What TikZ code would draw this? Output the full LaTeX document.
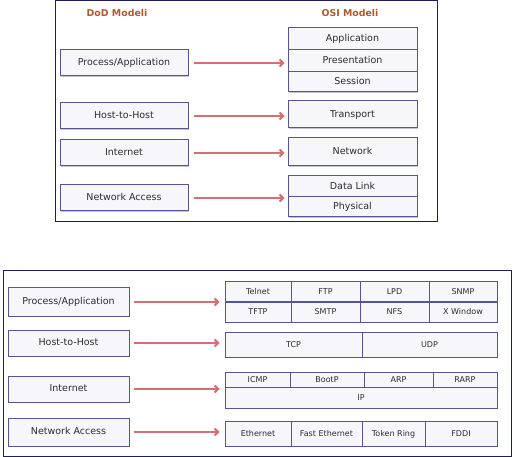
\documentclass[tikz,border=0pt]{standalone}
\usepackage{fontspec}
\setmainfont{DejaVu Sans}
\usetikzlibrary{arrows.meta,shadows}
\definecolor{boxline}{RGB}{85,85,150}
\definecolor{boxfill}{RGB}{246,246,251}
\definecolor{arrowred}{RGB}{215,110,115}
\definecolor{framecol}{RGB}{30,30,95}
\definecolor{titlebrown}{RGB}{175,90,45}
\definecolor{shadowgray}{RGB}{195,195,210}
\definecolor{textgray}{RGB}{45,45,45}
\newcommand\mkcell[7][]{\node[cell,#1,minimum width={(#5-#3)*1pt},minimum height={(#6-#4)*1pt}] (#2) at ({(#3+#5)/2},{(#4+#6)/2}) {#7};}
\begin{document}
\begin{tikzpicture}[x=1pt,y=-1pt,
  cell/.style={draw=boxline,fill=boxfill,line width=1pt,inner sep=0pt,text=textgray,
    text height=0.72em,text depth=0.16em,
    drop shadow={shadow xshift=1.2pt,shadow yshift=-1.2pt,fill=shadowgray,opacity=1}},
  big/.style={font=\fontsize{9.5}{11}\selectfont},
  small/.style={font=\fontsize{8}{9.5}\selectfont},
  arr/.style={draw=arrowred,line width=2pt,-{Straight Barb[length=3.5pt,width=7pt]}},
  title/.style={text=titlebrown,font=\bfseries\fontsize{9.4}{11}\selectfont},
  frame/.style={draw=framecol,line width=1pt}]
\useasboundingbox (0,0) rectangle (517,457);
% ---------- top panel ----------
\draw[frame] (55,1) rectangle (437,222);
\node[title] (tdod) at (117,13) {DoD Modeli};
\node[title] (tosi) at (350,13) {OSI Modeli};
\mkcell[big]{tpa}{60}{50}{188}{76}{Process/Application}
\mkcell[big]{thh}{60}{103}{188}{129}{Host-to-Host}
\mkcell[big]{tint}{60}{140}{188}{166}{Internet}
\mkcell[big]{tna}{60}{185}{188}{211}{Network Access}
\mkcell[big]{tapp}{288}{28}{417}{50}{Application}
\mkcell[big]{tpres}{288}{50}{417}{72}{Presentation}
\mkcell[big]{tses}{288}{72}{417}{92}{Session}
\mkcell[big]{ttr}{288}{101}{417}{128}{Transport}
\mkcell[big]{tnet}{288}{138}{417}{166}{Network}
\mkcell[big]{tdl}{288}{176}{417}{197}{Data Link}
\mkcell[big]{tph}{288}{197}{417}{217}{Physical}
\draw[arr,shorten <=5pt,shorten >=3pt] (tpa.east) -- (tpa.east -| tpres.west);
\draw[arr,shorten <=5pt,shorten >=3pt] (thh.east) -- (thh.east -| ttr.west);
\draw[arr,shorten <=5pt,shorten >=3pt] (tint.east) -- (tint.east -| tnet.west);
\draw[arr,shorten <=5pt,shorten >=3pt] (tna.east) -- (tna.east -| tdl.west);
% ---------- bottom panel ----------
\draw[frame] (3,271) rectangle (511,456);
\mkcell[big]{bpa}{8}{288}{129}{316}{Process/Application}
\mkcell[big]{bhh}{8}{330}{129}{356}{Host-to-Host}
\mkcell[big]{bint}{8}{376}{129}{402}{Internet}
\mkcell[big]{bna}{8}{418}{129}{446}{Network Access}
% applications
\mkcell[small]{telnet}{225}{282}{291}{302}{Telnet}
\mkcell[small]{ftp}{291}{282}{360}{302}{FTP}
\mkcell[small]{lpd}{360}{282}{429}{302}{LPD}
\mkcell[small]{snmp}{429}{282}{497}{302}{SNMP}
\mkcell[small]{tftp}{225}{302}{291}{322}{TFTP}
\mkcell[small]{smtp}{291}{302}{360}{322}{SMTP}
\mkcell[small]{nfs}{360}{302}{429}{322}{NFS}
\mkcell[small]{xwin}{429}{302}{497}{322}{X Window}
% transport
\mkcell[small]{tcp}{225}{332}{362}{357}{TCP}
\mkcell[small]{udp}{362}{332}{497}{357}{UDP}
% internet
\mkcell[small]{icmp}{225}{372}{290}{387}{ICMP}
\mkcell[small]{bootp}{290}{372}{364}{387}{BootP}
\mkcell[small]{arp}{364}{372}{433}{387}{ARP}
\mkcell[small]{rarp}{433}{372}{497}{387}{RARP}
\mkcell[small]{ip}{225}{387}{497}{408}{IP}
% network access
\mkcell[small]{eth}{225}{421}{291}{446}{Ethernet}
\mkcell[small]{feth}{291}{421}{362}{446}{Fast Ethernet}
\mkcell[small]{tring}{362}{421}{425}{446}{Token Ring}
\mkcell[small]{fddi}{425}{421}{497}{446}{FDDI}
\draw[arr,shorten <=4pt,shorten >=5pt] (bpa.east) -- (bpa.east -| telnet.west);
\draw[arr,shorten <=4pt,shorten >=5pt] (bhh.east) -- (bhh.east -| tcp.west);
\draw[arr,shorten <=4pt,shorten >=5pt] (bint.east) -- (bint.east -| ip.west);
\draw[arr,shorten <=4pt,shorten >=5pt] (bna.east) -- (bna.east -| eth.west);
\end{tikzpicture}
\end{document}
